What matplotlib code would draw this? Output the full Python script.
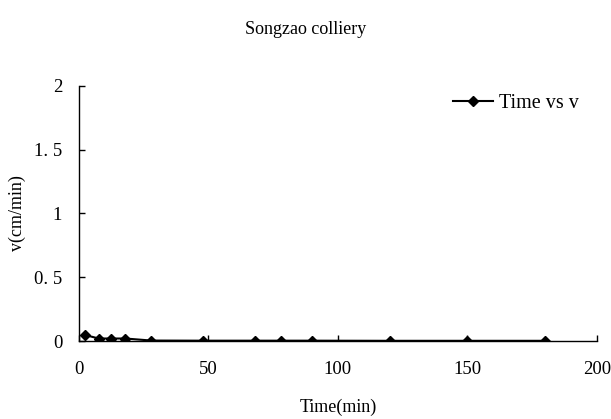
import matplotlib
matplotlib.use("Agg")
import matplotlib.pyplot as plt

# measured flow velocity over time
time_min = [2.5, 7.7, 12.4, 18, 28, 48, 68, 78, 90, 120, 150, 180]
v_cm_min = [0.047, 0.02, 0.02, 0.02, 0.004, 0.003, 0.003, 0.003, 0.003, 0.002, 0.002, 0.002]

x_ticks = [0, 50, 100, 150, 200]
y_ticks = [0, 0.5, 1, 1.5, 2]
y_tick_labels = ["0", "0. 5", "1", "1. 5", "2"]

plt.rcParams['font.family'] = ['Liberation Serif', 'DejaVu Serif']

fig = plt.figure(figsize=(6.11, 4.19), dpi=100)
ax = fig.add_axes([0.129, 0.186, 0.848, 0.609])

ax.plot(time_min, v_cm_min, "-", color="black", marker="D", markersize=5,
        linewidth=1.5, label="Time vs v")

ax.set_xlim(0, 200)
ax.set_ylim(0, 2)
ax.set_xticks(x_ticks)
ax.set_yticks(y_ticks)
ax.set_yticklabels(y_tick_labels)
ax.tick_params(direction="in", length=4, width=1, labelsize=13.5)
ax.tick_params(axis="x", pad=14)
ax.tick_params(axis="y", pad=12)
for side in ["top", "right"]:
    ax.spines[side].set_visible(False)
for side in ["left", "bottom"]:
    ax.spines[side].set_linewidth(1)

ax.set_xlabel("Time(min)", fontsize=13, labelpad=15)
ax.set_ylabel("v(cm/min)", fontsize=13, labelpad=6)
fig.suptitle("Songzao colliery", fontsize=13, y=0.95)

ax.legend(loc="upper right", frameon=False, fontsize=14.5, handlelength=2.0,
          handletextpad=0.3, bbox_to_anchor=(1.0, 1.04))

fig.savefig("out.png", dpi=100)
